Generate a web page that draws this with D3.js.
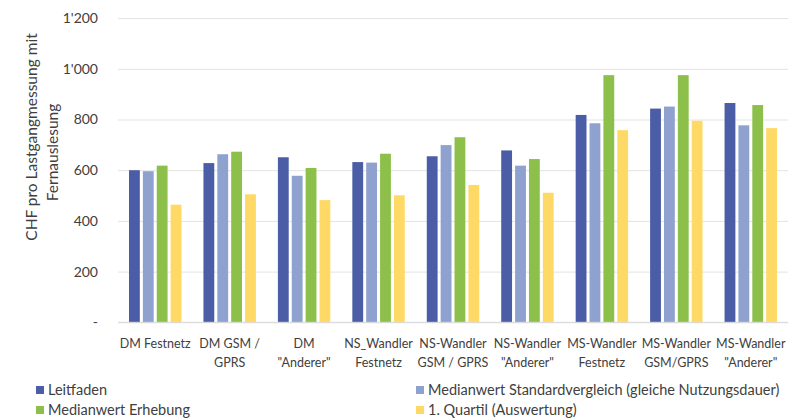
<!DOCTYPE html>
<html>
<head>
<meta charset="utf-8">
<script src="https://cdn.jsdelivr.net/npm/d3@7"></script>
<style>
  html, body { margin: 0; padding: 0; background: #fff; }
  svg { display: block; font-family: Lato, "Open Sans", sans-serif; }
</style>
</head>
<body>
<svg id="chart" width="803" height="418"></svg>
<script>
const categories = [
  ["DM Festnetz"],
  ["DM GSM /", "GPRS"],
  ["DM", "\"Anderer\""],
  ["NS_Wandler", "Festnetz"],
  ["NS-Wandler", "GSM / GPRS"],
  ["NS-Wandler", "\"Anderer\""],
  ["MS-Wandler", "Festnetz"],
  ["MS-Wandler", "GSM/GPRS"],
  ["MS-Wandler", "\"Anderer\""]
];
const seriesNames = [
  "Leitfaden",
  "Medianwert Standardvergleich (gleiche Nutzungsdauer)",
  "Medianwert Erhebung",
  "1. Quartil (Auswertung)"
];
const leitfaden = [600, 628, 651, 632, 655, 678, 818, 843, 865];
const medianStandard = [596, 663, 578, 630, 699, 618, 785, 851, 777];
const medianErhebung = [618, 673, 609, 665, 730, 644, 975, 975, 857];
const quartil1 = [464, 505, 482, 501, 542, 511, 758, 795, 766];
const yTicks = [0, 200, 400, 600, 800, 1000, 1200];
const yTickLabels = ["-", "200", "400", "600", "800", "1'000", "1'200"];
const colors = ["#4a5da6", "#8ea1cf", "#8cc04b", "#ffd966"];

const seriesValues = [leitfaden, medianStandard, medianErhebung, quartil1];
const svg = d3.select("#chart");

const plot = { left: 118, right: 788, top: 18.1, bottom: 322.3 };

const x0 = d3.scaleBand()
  .domain(d3.range(categories.length))
  .range([plot.left, plot.right])
  .padding(0);
const x1 = d3.scaleBand()
  .domain(d3.range(seriesNames.length))
  .range([11, x0.bandwidth() - 11])
  .paddingInner(0.22)
  .paddingOuter(0);
const y = d3.scaleLinear().domain([0, 1200]).range([plot.bottom, plot.top]);

// gridlines
const yAxis = d3.axisLeft(y)
  .tickValues(yTicks)
  .tickFormat((d, i) => yTickLabels[i])
  .tickSize(-(plot.right - plot.left))
  .tickPadding(20);
const gy = svg.append("g")
  .attr("transform", `translate(${plot.left},0)`)
  .call(yAxis);
gy.select(".domain").remove();
gy.selectAll(".tick line").attr("stroke", "#e3e3e3").attr("stroke-width", 1);
gy.selectAll(".tick text")
  .attr("fill", "#404040")
  .style("font-size", "14px")
  .style("font-family", "Lato, sans-serif");

// bars
const groups = svg.append("g").selectAll("g")
  .data(categories.map((c, i) => i))
  .join("g")
  .attr("transform", i => `translate(${x0(i)},0)`);
groups.selectAll("rect")
  .data(i => seriesValues.map((s, j) => ({ j, v: s[i] })))
  .join("rect")
  .attr("x", d => x1(d.j))
  .attr("width", x1.bandwidth())
  .attr("y", d => y(d.v))
  .attr("height", d => y(0) - y(d.v))
  .attr("fill", d => colors[d.j]);

// x axis baseline
svg.append("line")
  .attr("x1", plot.left).attr("x2", plot.right)
  .attr("y1", y(0)).attr("y2", y(0))
  .attr("stroke", "#d9d9d9").attr("stroke-width", 1);

// category labels
const xl = svg.append("g");
categories.forEach((lines, i) => {
  const t = xl.append("text")
    .attr("text-anchor", "middle")
    .attr("fill", "#404040")
    .style("font-size", "12.5px");
  lines.forEach((ln, k) => {
    t.append("tspan")
      .attr("x", x0(i) + x0.bandwidth() / 2)
      .attr("y", 347.5 + k * 19)
      .text(ln);
  });
});

// y axis title
const yt = svg.append("text")
  .attr("fill", "#404040")
  .attr("text-anchor", "middle")
  .style("font-size", "15.5px");
yt.append("tspan").attr("x", -137).attr("y", 37).text("CHF pro Lastgangmessung mit");
yt.append("tspan").attr("x", -152.5).attr("y", 58).text("Fernauslesung");
yt.attr("transform", "rotate(-90)");

// legend
const legendPos = [
  { x: 36, y: 390 },
  { x: 416, y: 390 },
  { x: 36, y: 410 },
  { x: 416, y: 410 }
];
const lg = svg.append("g");
seriesNames.forEach((name, j) => {
  const p = legendPos[j];
  lg.append("rect")
    .attr("x", p.x).attr("y", p.y - 4)
    .attr("width", 8).attr("height", 8)
    .attr("fill", colors[j]);
  lg.append("text")
    .attr("x", p.x + 12).attr("y", p.y + 5)
    .attr("fill", "#404040")
    .style("font-size", "14.5px")
    .text(name);
});
</script>
</body>
</html>
